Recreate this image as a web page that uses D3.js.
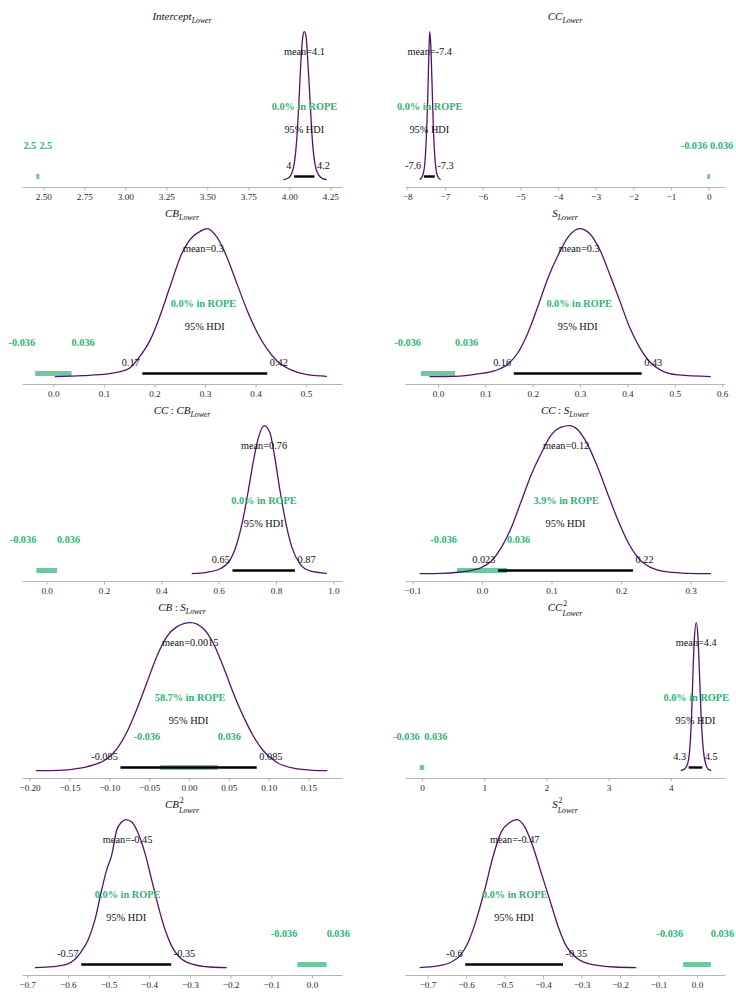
<!DOCTYPE html>
<html lang="en">
<meta charset="utf-8" />
<style>body{margin:0;background:#fff}</style>
<svg width="736" height="994"></svg>
<script src="https://d3js.org/d3.v7.min.js"></script>
<script>
// panel titles (all subscripted "Lower", some with a superscript 2)
var panelTitle = ["Intercept", "CC", "CB", "S", "CC:CB", "CC:S", "CB:S", "CC", "CB", "S"];
var panelSup = ["", "", "", "", "", "", "", "2", "2", "2"];

// x limits of every panel
var xDomains = [[2.370, 4.321], [-8.061, 0.433], [-0.062, 0.571], [-0.0697, 0.606], [-0.086, 1.030],
                [-0.1107, 0.3493], [-0.2095, 0.192], [-0.273, 4.872], [-0.7125, 0.0737], [-0.7584, 0.0727]];

var tickValues = [
  [2.5, 2.75, 3, 3.25, 3.5, 3.75, 4, 4.25],
  [-8, -7, -6, -5, -4, -3, -2, -1, 0],
  [0, 0.1, 0.2, 0.3, 0.4, 0.5],
  [0, 0.1, 0.2, 0.3, 0.4, 0.5, 0.6],
  [0, 0.2, 0.4, 0.6, 0.8, 1.0],
  [-0.1, 0, 0.1, 0.2, 0.3],
  [-0.2, -0.15, -0.1, -0.05, 0, 0.05, 0.1, 0.15],
  [0, 1, 2, 3, 4],
  [-0.7, -0.6, -0.5, -0.4, -0.3, -0.2, -0.1, 0],
  [-0.7, -0.6, -0.5, -0.4, -0.3, -0.2, -0.1, 0]
];
var tickLabels = [
  ["2.50", "2.75", "3.00", "3.25", "3.50", "3.75", "4.00", "4.25"],
  ["\u22128", "\u22127", "\u22126", "\u22125", "\u22124", "\u22123", "\u22122", "\u22121", "0"],
  ["0.0", "0.1", "0.2", "0.3", "0.4", "0.5"],
  ["0.0", "0.1", "0.2", "0.3", "0.4", "0.5", "0.6"],
  ["0.0", "0.2", "0.4", "0.6", "0.8", "1.0"],
  ["\u22120.1", "0.0", "0.1", "0.2", "0.3"],
  ["\u22120.20", "\u22120.15", "\u22120.10", "\u22120.05", "0.00", "0.05", "0.10", "0.15"],
  ["0", "1", "2", "3", "4"],
  ["\u22120.7", "\u22120.6", "\u22120.5", "\u22120.4", "\u22120.3", "\u22120.2", "\u22120.1", "0.0"],
  ["\u22120.7", "\u22120.6", "\u22120.5", "\u22120.4", "\u22120.3", "\u22120.2", "\u22120.1", "0.0"]
];

// posterior densities (x, relative height)
var kdeX = [
  [3.963, 3.994, 4.015, 4.030, 4.045, 4.059, 4.071, 4.082, 4.091, 4.102, 4.112, 4.126, 4.140, 4.157, 4.177, 4.204, 4.228],
  [-7.671, -7.601, -7.538, -7.496, -7.458, -7.432, -7.405, -7.379, -7.344, -7.31, -7.273, -7.22, -7.166, -7.113],
  [0.003, 0.059, 0.107, 0.132, 0.152, 0.172, 0.192, 0.211, 0.231, 0.254, 0.274, 0.290, 0.304, 0.324, 0.343, 0.363, 0.383, 0.403, 0.423, 0.442, 0.469, 0.502, 0.541],
  [-0.018, 0.035, 0.0845, 0.12, 0.148, 0.169, 0.19, 0.211, 0.232, 0.2535, 0.275, 0.299, 0.32, 0.342, 0.363, 0.384, 0.405, 0.426, 0.447, 0.472, 0.507, 0.576],
  [0.506, 0.558, 0.605, 0.639, 0.663, 0.686, 0.703, 0.721, 0.738, 0.759, 0.779, 0.796, 0.814, 0.835, 0.855, 0.883, 0.918, 0.977],
  [-0.0896, -0.0585, -0.0345, -0.0153, -0.001, 0.0134, 0.0277, 0.042, 0.0565, 0.0709, 0.0853, 0.0996, 0.114, 0.126, 0.138, 0.152, 0.167, 0.181, 0.196, 0.21, 0.224, 0.243, 0.267, 0.296, 0.329],
  [-0.192, -0.1619, -0.1368, -0.1158, -0.1033, -0.0907, -0.0782, -0.0656, -0.0531, -0.0405, -0.028, -0.0154, 0.0021, 0.0179, 0.0305, 0.043, 0.0556, 0.0681, 0.0807, 0.0932, 0.11, 0.1309, 0.156, 0.1735],
  [4.159, 4.223, 4.277, 4.309, 4.336, 4.357, 4.378, 4.41, 4.437, 4.464, 4.49, 4.522, 4.561, 4.598, 4.651],
  [-0.6806, -0.6356, -0.6027, -0.5823, -0.5659, -0.5496, -0.5332, -0.5167, -0.5045, -0.4921, -0.4799, -0.4676, -0.457, -0.443, -0.4267, -0.4103, -0.3939, -0.3776, -0.3612, -0.3447, -0.3243, -0.2916, -0.2506, -0.2096],
  [-0.7203, -0.6727, -0.6382, -0.6164, -0.5948, -0.5732, -0.5514, -0.5299, -0.5083, -0.4865, -0.4668, -0.4475, -0.426, -0.4044, -0.3826, -0.361, -0.3395, -0.3135, -0.2745, -0.2138, -0.1577]
];
var kdeY = [
  [0, 0.011, 0.045, 0.11, 0.27, 0.54, 0.81, 0.966, 1, 0.966, 0.81, 0.54, 0.27, 0.10, 0.034, 0.007, 0],
  [0, 0.022, 0.1, 0.278, 0.544, 0.81, 1, 0.922, 0.656, 0.367, 0.167, 0.044, 0.011, 0],
  [0, 0.007, 0.018, 0.033, 0.06, 0.14, 0.25, 0.41, 0.61, 0.83, 0.94, 0.98, 1, 0.94, 0.81, 0.63, 0.45, 0.30, 0.185, 0.107, 0.047, 0.013, 0.002],
  [0, 0.002, 0.018, 0.04, 0.085, 0.163, 0.297, 0.475, 0.665, 0.82, 0.944, 1, 0.967, 0.855, 0.688, 0.51, 0.33, 0.196, 0.1, 0.04, 0.011, 0],
  [0, 0.009, 0.033, 0.089, 0.2, 0.38, 0.558, 0.76, 0.915, 1, 0.95, 0.78, 0.558, 0.335, 0.179, 0.067, 0.018, 0.002],
  [0, 0.002, 0.009, 0.022, 0.04, 0.085, 0.175, 0.31, 0.49, 0.67, 0.815, 0.937, 0.99, 1, 0.97, 0.87, 0.71, 0.535, 0.355, 0.21, 0.108, 0.04, 0.011, 0.002, 0],
  [0, 0.002, 0.016, 0.045, 0.078, 0.145, 0.257, 0.413, 0.59, 0.77, 0.904, 0.971, 1, 0.96, 0.86, 0.703, 0.525, 0.368, 0.234, 0.134, 0.056, 0.016, 0.002, 0],
  [0, 0.011, 0.056, 0.167, 0.39, 0.658, 0.882, 1, 0.904, 0.636, 0.346, 0.145, 0.045, 0.011, 0],
  [0, 0.007, 0.022, 0.056, 0.112, 0.19, 0.324, 0.526, 0.66, 0.76, 0.928, 0.984, 1, 0.984, 0.906, 0.772, 0.593, 0.414, 0.257, 0.145, 0.067, 0.022, 0.004, 0],
  [0, 0.011, 0.038, 0.078, 0.168, 0.324, 0.526, 0.749, 0.917, 0.98, 1, 0.951, 0.817, 0.638, 0.459, 0.28, 0.145, 0.067, 0.022, 0.004, 0]
];

// 95% HDI
var hdiLow = [4.029, -7.56, 0.176, 0.16, 0.648, 0.023, -0.086, 4.288, -0.567, -0.602];
var hdiHigh = [4.153, -7.27, 0.423, 0.43, 0.866, 0.217, 0.085, 4.507, -0.346, -0.348];
var hdiLowLabel = ["4", "-7.6", "0.17", "0.16", "0.65", "0.023", "-0.085", "4.3", "-0.57", "-0.6"];
var hdiHighLabel = ["4.2", "-7.3", "0.42", "0.43", "0.87", "0.22", "0.085", "4.5", "-0.35", "-0.35"];

// point estimate
var meanValue = [4.092, -7.405, 0.297, 0.298, 0.758, 0.121, 0.0015, 4.41, -0.453, -0.4735];
var meanLabel = ["mean=4.1", "mean=-7.4", "mean=0.3", "mean=0.3", "mean=0.76", "mean=0.12", "mean=0.0015", "mean=4.4", "mean=-0.45", "mean=-0.47"];

// region of practical equivalence
var ropeLow = [2.457, -0.036, -0.036, -0.036, -0.036, -0.036, -0.036, -0.036, -0.036, -0.036];
var ropeHigh = [2.476, 0.036, 0.036, 0.036, 0.036, 0.036, 0.036, 0.036, 0.036, 0.036];
var ropeLowLabel = ["2.5", "-0.036", "-0.036", "-0.036", "-0.036", "-0.036", "-0.036", "-0.036", "-0.036", "-0.036"];
var ropeHighLabel = ["2.5", "0.036", "0.036", "0.036", "0.036", "0.036", "0.036", "0.036", "0.036", "0.036"];
var ropePct = ["0.0%", "0.0%", "0.0%", "0.0%", "0.0%", "3.9%", "58.7%", "0.0%", "0.0%", "0.0%"];

var svg = d3.select("svg"),
    serif = "'Liberation Serif', 'Times New Roman', serif",
    lineColor = "#50146e",
    ropeColor = "#2fb273";

var colLeft = [22, 405], axisWidth = 320;
var rowBottom = [187, 384, 581, 778, 975];
var plotH = 162.8;

panelTitle.forEach(function(title, i) {
  var x0 = colLeft[i % 2], bottom = rowBottom[Math.floor(i / 2)];
  var x = d3.scaleLinear().domain(xDomains[i]).range([x0, x0 + axisWidth]);
  var y = d3.scaleLinear().domain([-0.05, 1.05]).range([bottom, bottom - plotH]);
  var g = svg.append("g");

  // bottom axis only
  var ax = g.append("g")
      .attr("transform", "translate(0," + bottom + ")")
      .call(d3.axisBottom(x)
        .tickValues(tickValues[i])
        .tickFormat(function(d, j) { return tickLabels[i][j]; })
        .tickSize(3.5)
        .tickSizeOuter(0));
  ax.select(".domain").attr("stroke", "#b5b5b5");
  ax.selectAll(".tick line").attr("stroke", "#b5b5b5");
  ax.selectAll(".tick text")
      .attr("y", 12.7).attr("dy", null)
      .attr("font-family", serif).attr("font-size", 9.2).attr("fill", "#2a2a2a");

  // rope bar (behind)
  g.append("line")
      .attr("x1", x(ropeLow[i])).attr("x2", x(ropeHigh[i]))
      .attr("y1", y(0.021)).attr("y2", y(0.021))
      .attr("stroke", ropeColor).attr("stroke-opacity", 0.7).attr("stroke-width", 5);

  // density
  var pts = kdeX[i].map(function(v, k) { return [v, kdeY[i][k]]; });
  g.append("path")
      .datum(pts)
      .attr("fill", "none")
      .attr("stroke", lineColor)
      .attr("stroke-width", 1.3)
      .attr("stroke-linejoin", "round")
      .attr("d", d3.line()
        .x(function(d) { return x(d[0]); })
        .y(function(d) { return y(d[1]); })
        .curve(d3.curveMonotoneX));

  // hdi bar
  g.append("line")
      .attr("x1", x(hdiLow[i])).attr("x2", x(hdiHigh[i]))
      .attr("y1", y(0.021)).attr("y2", y(0.021))
      .attr("stroke", "#000").attr("stroke-width", 2.4);

  function label(xv, yv, txt, anchor, dx) {
    return g.append("text")
      .attr("x", x(xv) + (dx || 0)).attr("y", y(yv))
      .attr("text-anchor", anchor)
      .attr("font-family", serif).attr("font-size", 10.3)
      .attr("fill", "#111")
      .text(txt);
  }
  label(hdiLow[i], 0.0735, hdiLowLabel[i], "end", -2.6);
  label(hdiHigh[i], 0.0735, hdiHighLabel[i], "start", 2.6);
  label((hdiLow[i] + hdiHigh[i]) / 2, 0.315, "95% HDI", "middle");
  label(meanValue[i], 0.84, meanLabel[i], "middle");

  label(ropeLow[i], 0.21, ropeLowLabel[i], "end")
      .attr("font-weight", "bold").attr("fill", ropeColor);
  label(ropeHigh[i], 0.21, ropeHighLabel[i], "start")
      .attr("font-weight", "bold").attr("fill", ropeColor);
  label(meanValue[i], 0.4725, ropePct[i] + " in ROPE", "middle")
      .attr("font-weight", "bold").attr("fill", ropeColor);

  // title: italic mathtext-like with subscript "Lower"
  var tg = g.append("g");
  var baseY = bottom - 167;
  var t = tg.append("text").attr("x", 0).attr("y", baseY)
      .attr("font-family", serif).attr("font-size", 11).attr("fill", "#111");
  title.split(":").forEach(function(p, k) {
    if (k > 0) t.append("tspan").attr("font-style", "normal").attr("dx", 2.5).text(":");
    t.append("tspan").attr("font-style", "italic").attr("dx", k > 0 ? 2.5 : 0).text(p);
  });
  var tn = t.node();
  var bw = tn.getEndPositionOfChar(tn.getNumberOfChars() - 1).x;
  var sub = tg.append("text")
      .attr("x", bw).attr("y", baseY + (panelSup[i] ? 4.5 : 3))
      .attr("font-family", serif).attr("font-style", "italic").attr("font-size", 7.8)
      .attr("fill", "#111").text("Lower");
  var tw = bw + sub.node().getComputedTextLength();
  if (panelSup[i]) {
    tg.append("text")
      .attr("x", bw + 0.8).attr("y", baseY - 5)
      .attr("font-family", serif).attr("font-size", 7.8)
      .attr("fill", "#111").text(panelSup[i]);
  }
  tg.attr("transform", "translate(" + (x0 + axisWidth / 2 - tw / 2) + ",0)");
});
</script>
</html>
